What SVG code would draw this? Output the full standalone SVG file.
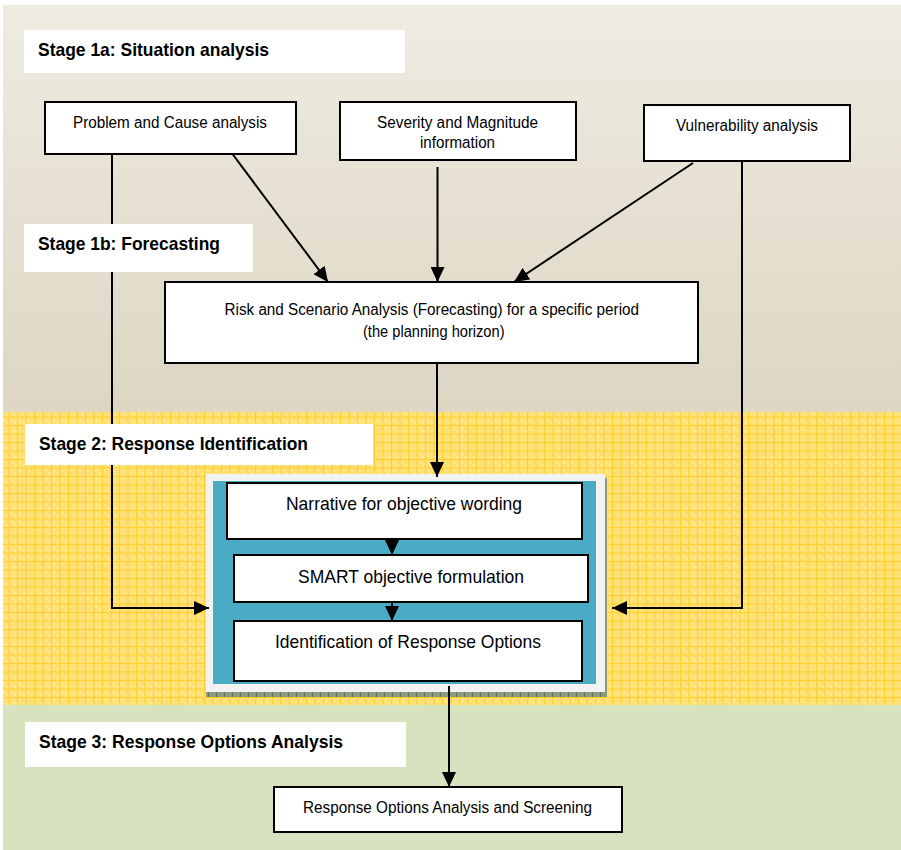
<svg xmlns="http://www.w3.org/2000/svg" width="901" height="850" viewBox="0 0 901 850">
  <style>
    .stage { font-family: "Liberation Sans", Arial, sans-serif; font-weight: bold; font-size: 19px; fill: #000; }
    .lbl { font-family: "Liberation Sans", Arial, sans-serif; font-size: 16px; fill: #000; }
    .lbl-lg { font-family: "Liberation Sans", Arial, sans-serif; font-size: 19px; fill: #000; }
    .box { fill: #fff; stroke: #000; stroke-width: 2; }
    .tag { fill: #fff; }
    .conn { fill: none; stroke: #000; stroke-width: 2; }
  </style>
  <defs>
    <linearGradient id="bandTop" x1="0" y1="0" x2="0" y2="1">
      <stop offset="0" stop-color="#EEEBE1"/>
      <stop offset="1" stop-color="#DCD6C3"/>
    </linearGradient>
    <pattern id="yellowGrid" width="8.5" height="8.5" patternUnits="userSpaceOnUse">
      <rect width="8.5" height="8.5" fill="#FFE072"/>
      <rect x="2.5" y="2.5" width="2" height="2" fill="#FFE996"/>
      <rect x="5.5" y="5.5" width="2" height="2" fill="#FFE996"/>
      <rect x="5.5" y="2.5" width="1" height="1" fill="#FFD54A"/>
      <path d="M0 0.5H8.5M0.5 0V8.5" stroke="#FFD02E" stroke-width="1"/>
    </pattern>
    <pattern id="shadowStripe" width="8" height="6" patternUnits="userSpaceOnUse">
      <rect width="8" height="6" fill="#8D9A78"/>
      <rect x="0" y="0" width="1" height="6" fill="#5E6E5A"/>
    </pattern>
    <marker id="arrow" markerUnits="userSpaceOnUse" markerWidth="15" markerHeight="14" refX="15" refY="7" orient="auto">
      <path d="M0 0L15 7L0 14Z" fill="#000"/>
    </marker>
  </defs>

  <!-- stage bands -->
  <rect x="0" y="0" width="901" height="850" fill="#fff"/>
  <rect x="3" y="5" width="898" height="407" fill="url(#bandTop)"/>
  <rect x="3" y="412" width="898" height="293" fill="url(#yellowGrid)"/>
  <rect x="3" y="705" width="898" height="145" fill="#D7E3BE"/>

  <!-- response identification panel -->
  <g id="panel">
    <rect x="206" y="692" width="399" height="5" fill="url(#shadowStripe)"/>
    <rect x="605" y="478" width="2" height="219" fill="#8D9A78"/>
    <rect x="206" y="474" width="399" height="218" fill="#F2F2F2"/>
    <rect x="213" y="481" width="383" height="203" fill="#4AABC5"/>
  </g>

  <!-- connectors -->
  <g id="connectors">
    <line class="conn" x1="231" y1="152" x2="328" y2="282" marker-end="url(#arrow)"/>
    <line class="conn" x1="437.5" y1="167" x2="437.5" y2="282" marker-end="url(#arrow)"/>
    <line class="conn" x1="693" y1="163" x2="514" y2="282" marker-end="url(#arrow)"/>
    <polyline class="conn" points="112,154 112,608 209,608" marker-end="url(#arrow)"/>
    <polyline class="conn" points="742,162 742,608 612,608" marker-end="url(#arrow)"/>
    <line class="conn" x1="437" y1="363" x2="437" y2="477" marker-end="url(#arrow)"/>
    <line class="conn" x1="392" y1="539" x2="392" y2="555" marker-end="url(#arrow)"/>
    <line class="conn" x1="392" y1="602" x2="392" y2="621" marker-end="url(#arrow)"/>
    <line class="conn" x1="449" y1="686" x2="449" y2="787" marker-end="url(#arrow)"/>
  </g>

  <!-- stage headings (drawn over the connectors) -->
  <g id="stage1a">
    <rect class="tag" x="24" y="30" width="381" height="43"/>
    <text class="stage" x="38" y="56" textLength="231" lengthAdjust="spacingAndGlyphs">Stage 1a: Situation analysis</text>
  </g>
  <g id="stage1b">
    <rect class="tag" x="24" y="224" width="229" height="48"/>
    <text class="stage" x="38" y="250" textLength="182" lengthAdjust="spacingAndGlyphs">Stage 1b: Forecasting</text>
  </g>
  <g id="stage2">
    <rect class="tag" x="25" y="424" width="348" height="41"/>
    <text class="stage" x="39" y="450" textLength="269" lengthAdjust="spacingAndGlyphs">Stage 2: Response Identification</text>
  </g>
  <g id="stage3">
    <rect class="tag" x="25" y="722" width="381" height="45"/>
    <text class="stage" x="39" y="748" textLength="304" lengthAdjust="spacingAndGlyphs">Stage 3: Response Options Analysis</text>
  </g>

  <!-- nodes -->
  <g id="problem">
    <rect class="box" x="45" y="102" width="251" height="52"/>
    <text class="lbl" x="73" y="128" textLength="194" lengthAdjust="spacingAndGlyphs">Problem and Cause analysis</text>
  </g>
  <g id="severity">
    <rect class="box" x="340" y="102" width="236" height="58"/>
    <text class="lbl" x="377" y="128" textLength="161" lengthAdjust="spacingAndGlyphs">Severity and Magnitude</text>
    <text class="lbl" x="420" y="148" textLength="75" lengthAdjust="spacingAndGlyphs">information</text>
  </g>
  <g id="vulnerability">
    <rect class="box" x="644" y="105" width="206" height="56"/>
    <text class="lbl" x="676" y="131" textLength="142" lengthAdjust="spacingAndGlyphs">Vulnerability analysis</text>
  </g>
  <g id="risk">
    <rect class="box" x="165" y="282" width="533" height="81"/>
    <text class="lbl" x="224.5" y="315" textLength="414.5" lengthAdjust="spacingAndGlyphs">Risk and Scenario Analysis (Forecasting) for a specific period</text>
    <text class="lbl" x="363" y="337" textLength="141.5" lengthAdjust="spacingAndGlyphs">(the planning horizon)</text>
  </g>
  <g id="narrative">
    <rect class="box" x="227" y="483" width="355" height="56"/>
    <text class="lbl-lg" x="286" y="510" textLength="236" lengthAdjust="spacingAndGlyphs">Narrative for objective wording</text>
  </g>
  <g id="smart">
    <rect class="box" x="234" y="555" width="354" height="47"/>
    <text class="lbl-lg" x="298" y="583" textLength="226" lengthAdjust="spacingAndGlyphs">SMART objective formulation</text>
  </g>
  <g id="identification">
    <rect class="box" x="234" y="621" width="348" height="60"/>
    <text class="lbl-lg" x="275" y="648" textLength="266" lengthAdjust="spacingAndGlyphs">Identification of Response Options</text>
  </g>
  <g id="screening">
    <rect class="box" x="274" y="787" width="348" height="45"/>
    <text class="lbl" x="303" y="813" textLength="289" lengthAdjust="spacingAndGlyphs">Response Options Analysis and Screening</text>
  </g>
</svg>
